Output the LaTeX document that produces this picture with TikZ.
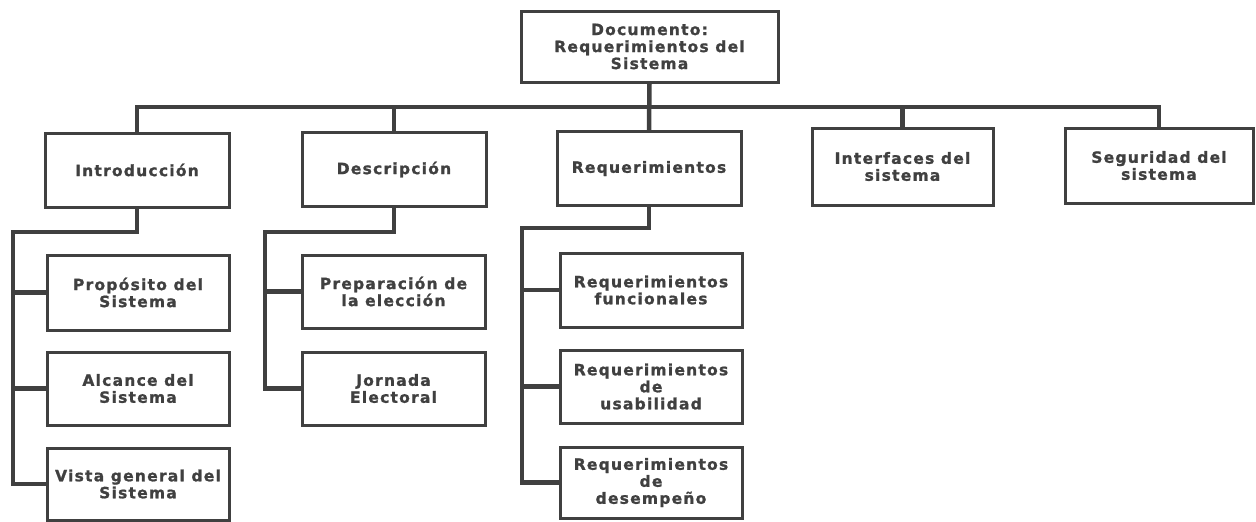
\documentclass[tikz,border=0pt]{standalone}
\usepackage{fontspec}
\newfontfamily\bxfont{DejaVu Sans}[LetterSpace=8, BoldFeatures={FakeBold=1.2}]
\definecolor{ink}{HTML}{404040}
\tikzset{
  box/.style={draw=ink, line width=3pt, minimum width=184pt, minimum height=74pt,
    align=center, text=ink, inner sep=2pt,
    font=\bxfont\bfseries\fontsize{15.5}{17}\selectfont},
  conn/.style={draw=ink, line width=4.5pt, line cap=rect, line join=miter}
}
\begin{document}
\begin{tikzpicture}[x=1pt,y=-1pt]
\useasboundingbox (0,0) rectangle (1256,522);
% level 0
\node[box, minimum width=257pt, minimum height=71pt] (top) at (649.5,46.5) {Documento:\\Requerimientos del\\Sistema};
% level 1
\node[box] (intro) at (137,170) {Introducción};
\node[box] (desc) at (394,169.5) {Descripción};
\node[box] (req) at (649,168.5) {Requerimientos};
\node[box, minimum width=181pt, minimum height=77pt] (intf) at (902.5,166.5) {Interfaces del\\sistema};
\node[box, minimum width=188pt, minimum height=75pt] (seg) at (1159,165.5) {Seguridad del\\sistema};
% level 2
\node[box, minimum width=182pt, minimum height=75pt] (prop) at (138,292.5) {Propósito del\\Sistema};
\node[box, minimum width=182pt, minimum height=73pt] (alc) at (138,388.5) {Alcance del\\Sistema};
\node[box, minimum width=182pt, minimum height=72pt] (vista) at (138,484) {Vista general del\\Sistema};
\node[box, minimum width=183pt, minimum height=73pt] (prep) at (393.5,291.5) {Preparación de\\la elección};
\node[box, minimum width=183pt, minimum height=73pt] (jorn) at (393.5,388.5) {Jornada\\Electoral};
\node[box, minimum width=182pt, minimum height=74pt] (func) at (651,290) {Requerimientos\\funcionales};
\node[box, minimum width=182pt, minimum height=73pt] (usab) at (651,386.5) {Requerimientos\\de\\usabilidad};
\node[box, minimum width=182pt, minimum height=71pt] (desem) at (651,482.5) {Requerimientos\\de\\desempeño};
% coordinates
\coordinate (bus) at (0,107);
\coordinate (iL) at (13,232);
\coordinate (dL) at (265,232);
\coordinate (rL) at (522,228);
% top bus
\draw[conn] (top.south) -- (req.north);
\draw[conn] (intro.north) -- (intro.north |- bus) -- (seg.north |- bus) -- (seg.north);
\draw[conn] (desc.north) -- (desc.north |- bus);
\draw[conn] (intf.north) -- (intf.north |- bus);
% introduccion children
\draw[conn] (intro.south) |- (iL) -- (iL |- vista.west) -- (vista.west);
\draw[conn] (iL |- prop.west) -- (prop.west);
\draw[conn] (iL |- alc.west) -- (alc.west);
% descripcion children
\draw[conn] (desc.south) |- (dL) -- (dL |- jorn.west) -- (jorn.west);
\draw[conn] (dL |- prep.west) -- (prep.west);
% requerimientos children
\draw[conn] (req.south) |- (rL) -- (rL |- desem.west) -- (desem.west);
\draw[conn] (rL |- func.west) -- (func.west);
\draw[conn] (rL |- usab.west) -- (usab.west);
\end{tikzpicture}
\end{document}
